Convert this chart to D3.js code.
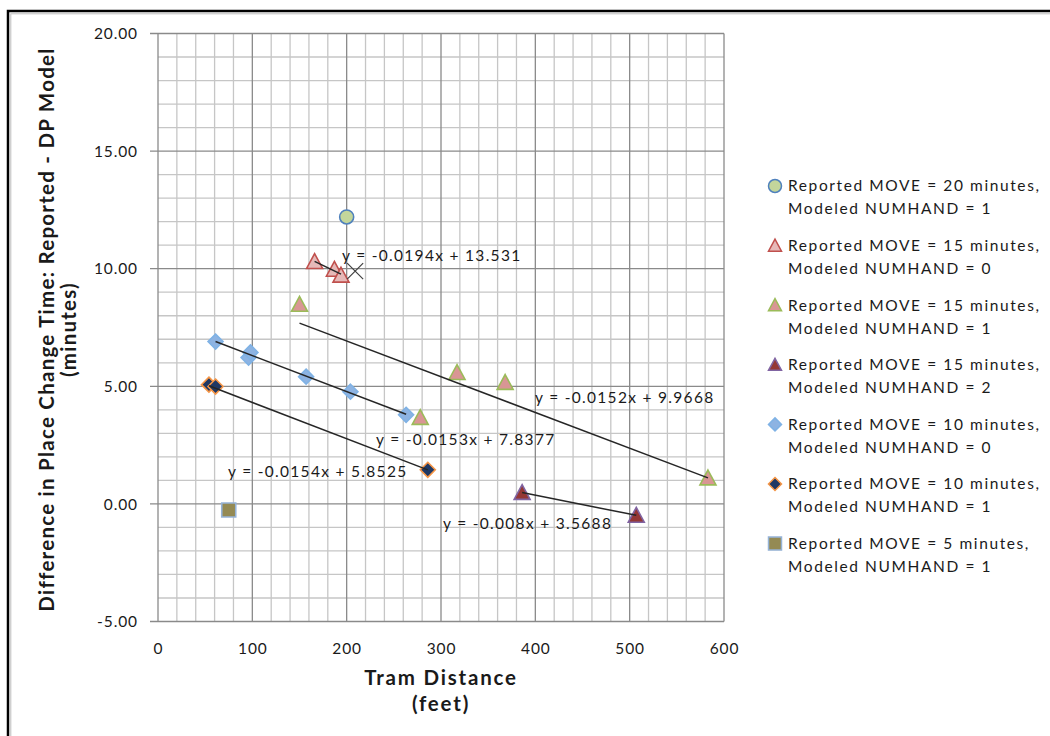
<!DOCTYPE html>
<html>
<head>
<meta charset="utf-8">
<script src="https://cdn.jsdelivr.net/npm/d3@7"></script>
<style>
  html, body { margin: 0; padding: 0; background: #fff; }
  svg { display: block; }
  text { font-family: "Lato", "Liberation Sans", sans-serif; fill: #1a1a1a; }
</style>
</head>
<body>
<svg id="chart" width="1050" height="736"></svg>
<script>
// ---- data -------------------------------------------------------------
const xTicks = [0, 100, 200, 300, 400, 500, 600];
const yTicks = [-5, 0, 5, 10, 15, 20];

const move20hand1X = [200];
const move20hand1Y = [12.2];

const move15hand0X = [166, 187, 194];
const move15hand0Y = [10.3, 9.97, 9.72];

const move15hand1X = [150, 278, 317, 368, 583];
const move15hand1Y = [8.48, 3.67, 5.58, 5.16, 1.1];

const move15hand2X = [386, 507];
const move15hand2Y = [0.48, -0.49];

const move10hand0X = [61, 96, 98, 157, 204, 263];
const move10hand0Y = [6.9, 6.22, 6.44, 5.41, 4.77, 3.79];

const move10hand1X = [54, 61, 286];
const move10hand1Y = [5.07, 4.99, 1.45];

const move5hand1X = [75];
const move5hand1Y = [-0.26];

// unlabelled point drawn with an "x" marker
const extraX = [209];
const extraY = [9.9];

const legendLabels = [
  ["Reported MOVE = 20 minutes,", "Modeled NUMHAND = 1"],
  ["Reported MOVE = 15 minutes,", "Modeled NUMHAND = 0"],
  ["Reported MOVE = 15 minutes,", "Modeled NUMHAND = 1"],
  ["Reported MOVE = 15 minutes,", "Modeled NUMHAND = 2"],
  ["Reported MOVE = 10 minutes,", "Modeled NUMHAND = 0"],
  ["Reported MOVE = 10 minutes,", "Modeled NUMHAND = 1"],
  ["Reported MOVE = 5 minutes,", "Modeled NUMHAND = 1"]
];

// linear trendlines: slope, intercept (as labelled)
const trendSlopes     = [-0.0194, -0.0152, -0.008, -0.0153, -0.0154];
const trendIntercepts = [13.531, 9.9668, 3.5688, 7.8377, 5.8525];
const trendLabels = [
  "y = -0.0194x + 13.531",
  "y = -0.0152x + 9.9668",
  "y = -0.008x + 3.5688",
  "y = -0.0153x + 7.8377",
  "y = -0.0154x + 5.8525"
];

// ---- series styling ---------------------------------------------------
const series = [
  { x: move20hand1X, y: move20hand1Y, shape: "circle",   fill: "#c3d69b", stroke: "#4f81bd", trend: null },
  { x: move15hand0X, y: move15hand0Y, shape: "triangle", fill: "#e6b9b8", stroke: "#c0504d", trend: 0 },
  { x: move15hand1X, y: move15hand1Y, shape: "triangle", fill: "#d99694", stroke: "#9bbb59", trend: 1 },
  { x: move15hand2X, y: move15hand2Y, shape: "triangle", fill: "#953735", stroke: "#8064a2", trend: 2 },
  { x: move10hand0X, y: move10hand0Y, shape: "diamond",  fill: "#8db3e2", stroke: "#7fb2e5", trend: 3 },
  { x: move10hand1X, y: move10hand1Y, shape: "diamond",  fill: "#1f3864", stroke: "#f79646", trend: 4 },
  { x: move5hand1X,  y: move5hand1Y,  shape: "square",   fill: "#948a54", stroke: "#95b3d7", trend: null }
];

// label placement for each trendline equation (left x, middle y)
const trendLabelPos = [[342, 256], [535, 398], [443, 524], [376, 440], [228, 472]];

// ---- layout -----------------------------------------------------------
const svg = d3.select("#chart");
const plot = { left: 158, right: 724, top: 33.5, bottom: 621.5 };

const x = d3.scaleLinear().domain([0, 600]).range([plot.left, plot.right]);
const y = d3.scaleLinear().domain([-5, 20]).range([plot.bottom, plot.top]);

// outer chart frame
svg.append("rect")
  .attr("x", 8).attr("y", 11).attr("width", 1100).attr("height", 800)
  .attr("fill", "none").attr("stroke", "#000").attr("stroke-width", 2.5);
svg.append("rect")
  .attr("x", 10.8).attr("y", 13.8).attr("width", 1100).attr("height", 800)
  .attr("fill", "none").attr("stroke", "#bdbdbd").attr("stroke-width", 1);

// gridlines
const g = svg.append("g");
const minorX = d3.range(0, 601, 20).filter(v => v % 100 !== 0);
const minorY = d3.range(-5, 20.01, 1).filter(v => v % 5 !== 0);

g.selectAll(".mx").data(minorX).join("line")
  .attr("x1", d => x(d)).attr("x2", d => x(d))
  .attr("y1", plot.top).attr("y2", plot.bottom)
  .attr("stroke", "#c6c6c6").attr("stroke-width", 1.3);
g.selectAll(".my").data(minorY).join("line")
  .attr("y1", d => y(d)).attr("y2", d => y(d))
  .attr("x1", plot.left).attr("x2", plot.right)
  .attr("stroke", "#c6c6c6").attr("stroke-width", 1.3);
g.selectAll(".Mx").data(xTicks).join("line")
  .attr("x1", d => x(d)).attr("x2", d => x(d))
  .attr("y1", plot.top).attr("y2", plot.bottom)
  .attr("stroke", "#8a8a8a").attr("stroke-width", 1.3);
g.selectAll(".My").data(yTicks).join("line")
  .attr("y1", d => y(d)).attr("y2", d => y(d))
  .attr("x1", plot.left - 8).attr("x2", plot.right)
  .attr("stroke", "#8a8a8a").attr("stroke-width", 1.3);

// axes labels
const fmt = d3.formatLocale({ decimal: ".", thousands: ",", grouping: [3], currency: ["", ""], minus: "-" }).format(".2f");

const yAxis = d3.axisLeft(y).tickValues(yTicks).tickFormat(fmt).tickSize(0).tickPadding(0);
const yAxisG = svg.append("g").attr("transform", `translate(${plot.left - 20},0)`).call(yAxis);
yAxisG.select(".domain").remove();
yAxisG.selectAll("text")
  .style("font-family", "Lato, sans-serif").style("font-size", "15.5px")
  .style("letter-spacing", "0.9px").attr("fill", "#1a1a1a").attr("dy", "0.34em");

const xAxis = d3.axisBottom(x).tickValues(xTicks).tickFormat(d3.format("d")).tickSize(0).tickPadding(0);
const xAxisG = svg.append("g").attr("transform", `translate(0,${plot.bottom + 27})`).call(xAxis);
xAxisG.select(".domain").remove();
xAxisG.selectAll("text")
  .style("font-family", "Lato, sans-serif").style("font-size", "15.5px")
  .style("letter-spacing", "0.9px").attr("fill", "#1a1a1a").attr("dy", "0.34em");

// axis titles
const ytitle = svg.append("text")
  .attr("transform", `translate(54,${(plot.top + plot.bottom) / 2 + 2}) rotate(-90)`)
  .attr("text-anchor", "middle")
  .style("font-size", "20.5px").style("font-weight", "bold").style("letter-spacing", "1.25px");
ytitle.append("tspan").attr("x", 0).attr("y", 0).text("Difference in Place Change Time: Reported - DP Model");
ytitle.append("tspan").attr("x", 0).attr("y", 22).text("(minutes)");

const xtitle = svg.append("text")
  .attr("text-anchor", "middle")
  .style("font-size", "20.5px").style("font-weight", "bold").style("letter-spacing", "1.8px");
xtitle.append("tspan").attr("x", 441).attr("y", 685).text("Tram Distance");
xtitle.append("tspan").attr("x", 441).attr("y", 711).text("(feet)");

// marker shapes
function markerPath(shape, s) {
  const h = s / 2;
  if (shape === "triangle") return `M0,${-h}L${h},${h * 0.85}L${-h},${h * 0.85}Z`;
  if (shape === "diamond")  return `M0,${-h}L${h},0L0,${h}L${-h},0Z`;
  if (shape === "square")   return `M${-h},${-h}H${h}V${h}H${-h}Z`;
  return d3.symbol(d3.symbolCircle, Math.PI * h * h)();
}
const markerSize = { circle: 14, triangle: 16, diamond: 15, square: 14 };

// data markers
series.forEach(s => {
  const pts = s.x.map((v, i) => [v, s.y[i]]);
  svg.append("g").selectAll("path").data(pts).join("path")
    .attr("transform", d => `translate(${x(d[0])},${y(d[1])})`)
    .attr("d", markerPath(s.shape, markerSize[s.shape]))
    .attr("fill", s.fill).attr("stroke", s.stroke).attr("stroke-width", 1.6);
});

// x-shaped marker
svg.append("g").selectAll("path").data(extraX.map((v, i) => [v, extraY[i]])).join("path")
  .attr("transform", d => `translate(${x(d[0])},${y(d[1])})`)
  .attr("d", "M-8,-8L8,8M8,-8L-8,8")
  .attr("stroke", "#404040").attr("stroke-width", 1.2).attr("fill", "none");

// trendlines spanning each series' x range
series.forEach(s => {
  if (s.trend === null) return;
  const m = trendSlopes[s.trend], b = trendIntercepts[s.trend];
  const [x0, x1] = d3.extent(s.x);
  svg.append("line")
    .attr("x1", x(x0)).attr("y1", y(m * x0 + b))
    .attr("x2", x(x1)).attr("y2", y(m * x1 + b))
    .attr("stroke", "#262626").attr("stroke-width", 1.5);
});

// trendline equations
svg.append("g").selectAll("text").data(trendLabels).join("text")
  .attr("x", (d, i) => trendLabelPos[i][0])
  .attr("y", (d, i) => trendLabelPos[i][1])
  .attr("dy", "0.35em")
  .style("font-size", "15.5px").style("letter-spacing", "1.3px")
  .text(d => d);

// legend
const legend = svg.append("g");
legendLabels.forEach((lines, i) => {
  const cy = 186 + i * 59.6;
  const s = series[i];
  legend.append("path")
    .attr("transform", `translate(775,${cy})`)
    .attr("d", markerPath(s.shape, 13))
    .attr("fill", s.fill).attr("stroke", s.stroke).attr("stroke-width", 1.5);
  const t = legend.append("text").style("font-size", "15.5px").style("letter-spacing", "1.6px");
  t.append("tspan").attr("x", 788).attr("y", cy).attr("dy", "0.35em").text(lines[0]);
  t.append("tspan").attr("x", 788).attr("y", cy + 23).attr("dy", "0.35em").text(lines[1]);
});
</script>
</body>
</html>
